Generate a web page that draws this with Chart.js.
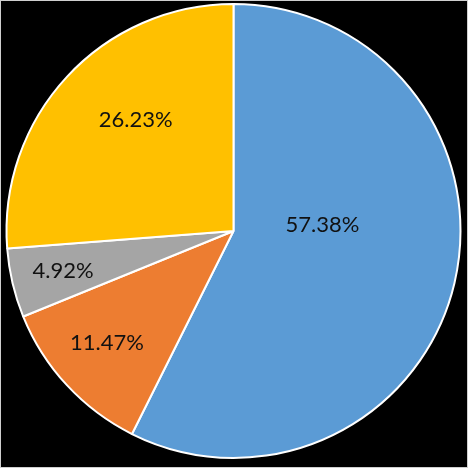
<!DOCTYPE html>
<html>
<head>
<meta charset="utf-8">
<script src="https://cdn.jsdelivr.net/npm/chart.js@4"></script>
<style>
  html, body { margin: 0; padding: 0; background: #fff; }
  #wrap { position: relative; width: 468px; height: 468px; background: #000; }
  #frame { position: absolute; left: 0; top: 0; width: 468px; height: 468px; box-sizing: border-box; border: 1px solid #cfcfcf; }
  #pie-chart { position: absolute; left: 0; top: 0; }
</style>
</head>
<body>
<div id="wrap">
  <div id="frame"></div>
  <canvas id="pie-chart" width="468" height="468"></canvas>
</div>
<script>
// share of each category, percent
const categories = ['Category 1', 'Category 2', 'Category 3', 'Category 4'];
const shares = [57.38, 11.47, 4.92, 26.23];
const sliceColors = ['#5B9BD5', '#ED7D31', '#A5A5A5', '#FFC000'];

// where each percentage label sits inside its slice
const labelRadius = [0.393, 0.743, 0.771, 0.652];
const labelAngleShift = [-17.2, 1.4, 0, 5.8];

const pctLabels = {
  id: 'pctLabels',
  afterDatasetsDraw(chart) {
    const ctx = chart.ctx;
    const meta = chart.getDatasetMeta(0);
    ctx.save();
    ctx.font = '22px Lato';
    ctx.fillStyle = '#111';
    ctx.textAlign = 'center';
    ctx.textBaseline = 'middle';
    meta.data.forEach((arc, i) => {
      const p = arc.getProps(['x', 'y', 'startAngle', 'endAngle', 'outerRadius'], true);
      const a = (p.startAngle + p.endAngle) / 2 + labelAngleShift[i] * Math.PI / 180;
      const r = p.outerRadius * labelRadius[i];
      const txt = shares[i].toFixed(2) + '%';
      ctx.fillText(txt, p.x + Math.cos(a) * r, p.y + Math.sin(a) * r);
    });
    ctx.restore();
  }
};

const ctx2 = document.getElementById('pie-chart');
const myPieChart = new Chart(ctx2, {
  type: 'pie',
  data: {
    labels: categories,
    datasets: [{
      data: shares,
      backgroundColor: sliceColors,
      borderColor: '#fff',
      borderWidth: 2,
    }]
  },
  options: {
    responsive: false,
    animation: false,
    layout: { padding: { left: 5.5, right: 6.5, top: 3, bottom: 9 } },
    plugins: {
      legend: { display: false },
      tooltip: { enabled: false },
    }
  },
  plugins: [pctLabels]
});
</script>
</body>
</html>
